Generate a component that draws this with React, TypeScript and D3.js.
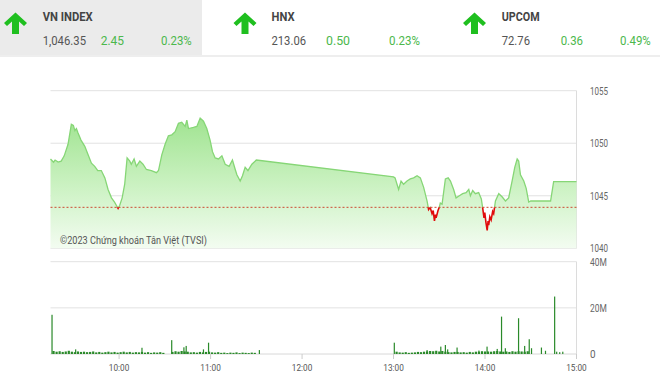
import React from "react";
import * as d3 from "d3";

// ---------- DATA ----------
const indexNames = ["VN INDEX", "HNX", "UPCOM"];
const indexValues = ["1,046.35", "213.06", "72.76"];
const indexChanges = ["2.45", "0.50", "0.36"];
const indexPercents = ["0.23%", "0.23%", "0.49%"];

const refPrice = 1043.9;
const priceTicks = [1040, 1045, 1050, 1055];
const volTicks = [0, 20, 40];
const volTickLabels = ["0", "20M", "40M"];
const timeTicks = ["10:00", "11:00", "12:00", "13:00", "14:00", "15:00"];

const priceTimes = [
  "09:15", "09:17", "09:18", "09:20", "09:22", "09:24", "09:26:30", "09:28:40", "09:30", "09:31",
  "09:32", "09:33", "09:35", "09:37:30", "09:39:40", "09:41:50", "09:44", "09:46", "09:48:20", "09:50:40",
  "09:52:45", "09:55", "09:57", "09:59:20", "10:00:25", "10:02", "10:03:40", "10:05:15", "10:07", "10:08",
  "10:09:50", "10:11:20", "10:13:35", "10:15:40", "10:17:55", "10:21:10", "10:24:30", "10:25:50", "10:28", "10:30:10",
  "10:32:20", "10:34:35", "10:36:45", "10:38:55", "10:41:05", "10:43:20", "10:44:25", "10:45:30", "10:48:45", "10:51",
  "10:53:10", "10:55:20", "10:57:30", "10:59:40", "11:01:15", "11:03", "11:05:10", "11:07:25", "11:09:35", "11:12:10",
  "11:14:20", "11:16:10", "11:17:15", "11:19:25", "11:20:55", "11:22:40", "11:24:30", "11:27:05", "11:30",
  "13:00", "13:01", "13:03:20", "13:04:55", "13:06:35", "13:08:50", "13:11", "13:13:10", "13:15:25", "13:17:35",
  "13:19:45", "13:22", "13:23", "13:24", "13:25:15", "13:26", "13:26:50", "13:27:30", "13:27:55", "13:29:10",
  "13:30", "13:30:40", "13:31:50", "13:34",
  "13:35:50", "13:37:20", "13:39:25", "13:41", "13:43:10", "13:45:20", "13:47:35", "13:49:20", "13:50:25", "13:51:55",
  "13:53:40", "13:55:50", "13:57:35", "13:58:30", "13:59:20", "13:59:50", "14:00:40", "14:01:25", "14:02", "14:02:25",
  "14:03:10", "14:04", "14:05", "14:05:40", "14:06:50",
  "14:09", "14:11:10", "14:13:25", "14:15:30", "14:17:45", "14:19:30", "14:21:05", "14:22:05", "14:23:15", "14:25:25",
  "14:27", "14:28:40", "14:30", "14:43", "14:45", "15:00",
];
const priceValues = [
  1048.5, 1048.2, 1048.4, 1048.2, 1048.3, 1048.8, 1049.9, 1051.8, 1051.7, 1051.2,
  1051.4, 1051.0, 1050.3, 1049.7, 1048.9, 1048.1, 1047.8, 1047.4, 1047.4, 1046.7,
  1045.6, 1044.8, 1044.4, 1043.8, 1044.1, 1044.8, 1046.1, 1048.6, 1048.3, 1048.0,
  1048.5, 1047.8, 1048.3, 1048.0, 1047.5, 1047.4, 1047.2, 1047.4, 1048.9, 1049.9,
  1050.7, 1050.8, 1051.1, 1051.9, 1052.0, 1051.6, 1052.2, 1051.4, 1051.5, 1051.6,
  1052.4, 1052.1, 1051.4, 1050.3, 1049.2, 1048.6, 1048.5, 1048.8, 1048.0, 1047.8,
  1048.4, 1047.5, 1047.0, 1046.4, 1046.9, 1047.7, 1047.4, 1048.0, 1048.4,
  1046.8, 1046.7, 1045.6, 1046.4, 1046.1, 1046.4, 1046.6, 1046.7, 1046.9, 1046.7,
  1045.8, 1044.5, 1043.7, 1043.9, 1043.3, 1043.6, 1042.6, 1043.2, 1042.9, 1043.6,
  1043.9, 1044.3, 1044.2, 1046.6,
  1046.7, 1046.4, 1045.6, 1044.8, 1045.0, 1045.2, 1045.3, 1045.6, 1045.0, 1045.5,
  1045.2, 1045.3, 1044.7, 1043.8, 1042.9, 1043.4, 1042.4, 1041.7, 1042.6, 1042.2,
  1043.0, 1042.7, 1043.5, 1043.3, 1044.5,
  1045.2, 1044.9, 1044.5, 1044.8, 1046.4, 1047.7, 1048.5, 1048.3, 1047.0, 1046.4,
  1045.7, 1044.4, 1044.5, 1044.5, 1046.35, 1046.35,
];

// regular volume bars (2-minute grid), millions of shares
const volMorningStart = "09:17";
const volMorning = [
  1.3, 1.0, 1.2, 0.9, 1.1, 1.4, 1.0, 0.8, 1.1, 0.9,
  1.0, 0.8, 0.9, 1.1, 0.7, 0.9, 0.6, 0.8, 1.0, 0.7,
  0.9, 0.6, 0.8, 1.0, 0.7, 0.9, 0.6, 0.8, 0.7, 0.9,
  0.6, 0.8, 0.5, 0.7, 0.6, 0.8, 0.5, 0, 0, 0.9,
  1.2, 1.0, 1.3, 1.1, 1.0, 0.7, 0.8, 0.6, 0.9, 0.7,
  0.9, 1.0, 0.7, 0.6, 0.8, 0.5, 0.6, 0.4, 0.6, 0.5,
  0.7, 0.4, 0.6, 0.5, 0.4, 0.6, 0.5,
];
const volAfternoonStart = "13:02";
const volAfternoon = [
  1.0, 0.7, 0.6, 0.8, 0.5, 0.6, 0.7, 0.9, 0.8, 1.0,
  1.1, 1.3, 1.2, 1.4, 1.1, 1.3, 1.0, 0.8, 0.7, 0.9,
  0.9, 0.7, 0.8, 0.6, 0.9, 0.7, 1.0, 1.0, 1.2, 1.1,
  1.1, 1.0, 1.2, 1.3, 1.1, 1.0, 1.1, 0.9, 1.2, 1.0,
  1.2, 1.1, 1.0, 1.2,
];
const volSpikeTimes = [
  "09:16", "09:31:30", "10:15", "10:34:30", "10:42:30", "10:44", "10:55:20", "10:58:40", "11:32",
  "13:00:30", "13:22", "13:31", "13:34", "13:35:30", "13:41:40", "13:56", "14:01:20", "14:08",
  "14:10:50", "14:13:20", "14:22", "14:26", "14:29", "14:30:30", "14:37", "14:39:40", "14:45:40",
  "14:47", "14:49", "14:51",
];
const volSpikeValues = [
  17.0, 2.0, 2.7, 6.0, 2.9, 3.5, 2.0, 4.9, 1.7,
  4.9, 1.7, 3.2, 3.9, 2.0, 2.8, 1.5, 3.2, 2.2,
  16.2, 2.5, 15.5, 3.5, 6.4, 2.5, 2.8, 1.4, 24.9,
  1.0, 0.8, 1.0,
];

// ---------- helpers ----------
const toMin = (t: string) => {
  const [h, m, s] = t.split(":").map(Number);
  return h * 60 + m + (s || 0) / 60 - (9 * 60 + 15);
};

const W = 660;
const H = 380;
const left = 50.5;
const right = 576.5;

const x = d3.scaleLinear().domain([0, 345]).range([left, right]);
const yP = d3.scaleLinear().domain([1040, 1055]).range([248.3, 90.7]);
const yV = d3.scaleLinear().domain([0, 40]).range([354, 261.7]);

const pricePts: [number, number][] = priceTimes.map((t, i) => [toMin(t), priceValues[i]]);

const volBars: { t: number; v: number; w: number }[] = [];
volMorning.forEach((v, i) => volBars.push({ t: toMin(volMorningStart) + i * 2, v, w: 2.2 }));
volAfternoon.forEach((v, i) => volBars.push({ t: toMin(volAfternoonStart) + i * 2, v, w: 2.2 }));
volSpikeTimes.forEach((t, i) => volBars.push({ t: toMin(t), v: volSpikeValues[i], w: 1.2 }));

const lineGen = d3
  .line<[number, number]>()
  .x((d) => x(d[0]))
  .y((d) => yP(d[1]));
const areaGen = d3
  .area<[number, number]>()
  .x((d) => x(d[0]))
  .y0(yP(1040))
  .y1((d) => yP(d[1]));

const Arrow = ({ x0 }: { x0: number }) => {
  const pts = [
    [x0 + 11.5, 12.5],
    [x0 + 23, 23],
    [x0 + 20, 26],
    [x0 + 15, 21.5],
    [x0 + 15, 34],
    [x0 + 8, 34],
    [x0 + 8, 21.5],
    [x0 + 3, 26],
    [x0 + 0, 23],
  ];
  return <polygon points={pts.map((p) => p.join(",")).join(" ")} fill="#1fbf1f" />;
};

const headerX = [42.7, 271.5, 501.7];
const arrowX = [4, 233.5, 463];
const changeX = [100.7, 326, 560.7];
const pctX = [161, 389, 620];
const nameLen = [50, 23, 38];
const valLen = [43.3, 34.5, 28.3];
const chgLen = [23.3, 24, 22.3];
const pctLen = [30.7, 31, 30.7];

export default function App() {
  const yRef = yP(refPrice);
  return (
    <svg
      width={W}
      height={H}
      style={{ position: "absolute", left: 0, top: 0, background: "#fff" }}
      fontFamily="Roboto, 'Noto Sans', sans-serif"
    >
      <defs>
        <linearGradient id="gfill" gradientUnits="userSpaceOnUse" x1="0" y1={yP(1053)} x2="0" y2={yP(1040)}>
          <stop offset="0" stopColor="#9ce28c" />
          <stop offset="0.55" stopColor="#ccf2c3" />
          <stop offset="1" stopColor="#f3fcf1" />
        </linearGradient>
        <clipPath id="above">
          <rect x={0} y={0} width={W} height={yRef} />
        </clipPath>
        <clipPath id="below">
          <rect x={0} y={yRef} width={W} height={H - yRef} />
        </clipPath>
      </defs>

      {/* header */}
      <rect x={0} y={0} width={202} height={55} fill="#ebebeb" />
      <rect x={0} y={55} width={W} height={2} fill="#eeeeee" />
      {indexNames.map((n, i) => (
        <g key={n}>
          <Arrow x0={arrowX[i]} />
          <text x={headerX[i]} y={21} fontSize={12} fontWeight="bold" fill="#444" textLength={nameLen[i]} lengthAdjust="spacingAndGlyphs">
            {n}
          </text>
          <text x={headerX[i]} y={45} fontSize={12.5} fill="#555" textLength={valLen[i]} lengthAdjust="spacingAndGlyphs">
            {indexValues[i]}
          </text>
          <text x={changeX[i]} y={45} fontSize={12.5} fill="#4cb84c" textLength={chgLen[i]} lengthAdjust="spacingAndGlyphs">
            {indexChanges[i]}
          </text>
          <text x={pctX[i]} y={45} fontSize={12.5} fill="#4cb84c" textLength={pctLen[i]} lengthAdjust="spacingAndGlyphs">
            {indexPercents[i]}
          </text>
        </g>
      ))}

      {/* price chart grid */}
      {priceTicks.map((t) => (
        <g key={t}>
          <line x1={left} x2={right} y1={yP(t)} y2={yP(t)} stroke="#e2e2e2" strokeWidth={1} />
          <text x={590} y={yP(t) + 4} fontSize={10} fill="#666" textLength={18} lengthAdjust="spacingAndGlyphs">
            {t}
          </text>
        </g>
      ))}
      <line x1={right} x2={right} y1={yP(1055)} y2={yP(1040)} stroke="#dcdcdc" />

      <path d={areaGen(pricePts) || ""} fill="url(#gfill)" />
      <path d={lineGen(pricePts) || ""} fill="none" stroke="#86d676" strokeWidth={1.3} clipPath="url(#above)" />
      <path d={lineGen(pricePts) || ""} fill="none" stroke="#e00b0b" strokeWidth={1.6} clipPath="url(#below)" />
      <line x1={left} x2={right} y1={yRef} y2={yRef} stroke="#cc4a30" strokeWidth={1} strokeDasharray="2,2" />

      <text x={60} y={244} fontSize={11} fill="#555" textLength={147} lengthAdjust="spacingAndGlyphs">
        ©2023 Chứng khoán Tân Việt (TVSI)
      </text>

      {/* volume chart */}
      {volTicks.map((t, i) => (
        <g key={t}>
          <line x1={left} x2={right} y1={yV(t)} y2={yV(t)} stroke={t === 0 ? "#d8d8d8" : "#e2e2e2"} />
          <text x={590} y={yV(t) + 4} fontSize={10} fill="#666" textLength={volTickLabels[i].length * 5.6} lengthAdjust="spacingAndGlyphs">
            {volTickLabels[i]}
          </text>
        </g>
      ))}
      <line x1={right} x2={right} y1={yV(40)} y2={yV(0)} stroke="#dcdcdc" />
      {volBars
        .filter((b) => b.v > 0)
        .map((b, i) => (
          <rect key={i} x={x(b.t) - b.w / 2} y={yV(b.v)} width={b.w} height={yV(0) - yV(b.v)} fill="#2a8a2a" />
        ))}
      {timeTicks.map((t) => (
        <g key={t}>
          <line x1={x(toMin(t))} x2={x(toMin(t))} y1={yV(0)} y2={yV(0) + 5} stroke="#ccc" />
          <text x={x(toMin(t))} y={371} fontSize={9.5} fill="#555" textAnchor="middle" textLength={20.5} lengthAdjust="spacingAndGlyphs">
            {t}
          </text>
        </g>
      ))}
    </svg>
  );
}
